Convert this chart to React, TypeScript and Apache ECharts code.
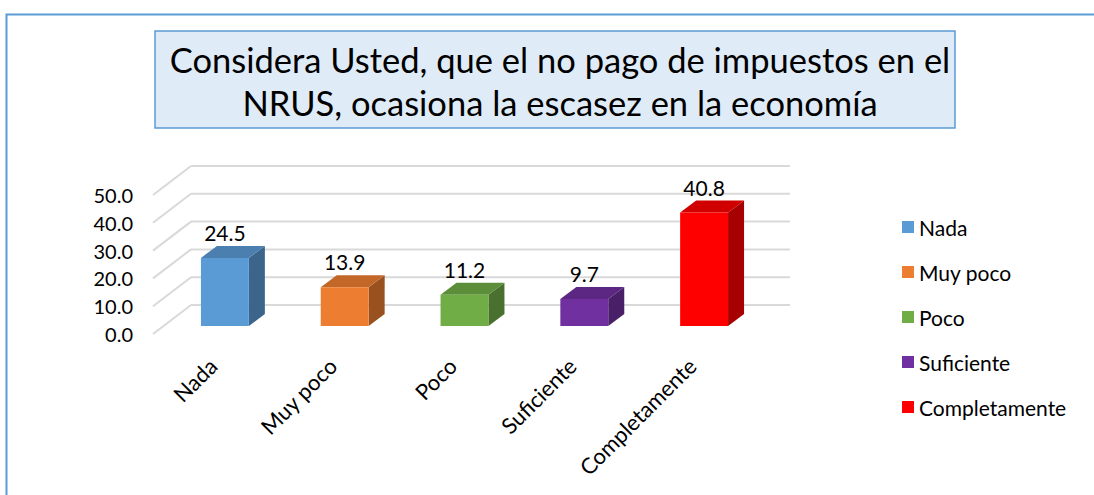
import React, { useEffect, useRef } from "react";
import * as echarts from "echarts";

const categories = ["Nada", "Muy poco", "Poco", "Suficiente", "Completamente"];
const values = [24.5, 13.9, 11.2, 9.7, 40.8];
const colors = ["#5b9bd5", "#ed7d31", "#70ad47", "#7030a0", "#ff0000"];
const yTicks = [0, 10, 20, 30, 40, 50];
const titleText = "Considera Usted, que el no pago de impuestos en el\nNRUS, ocasiona la escasez en la economía";

const FONT = "Lato, 'Open Sans', sans-serif";

function shade(hex: string, f: number): string {
  const n = parseInt(hex.slice(1), 16);
  const r = Math.round(((n >> 16) & 255) * f);
  const g = Math.round(((n >> 8) & 255) * f);
  const b = Math.round((n & 255) * f);
  return "rgb(" + r + "," + g + "," + b + ")";
}

// 3D geometry (pixels)
const WALL_DX = 38;
const WALL_DY = -29;
const FRONT_DX = 12;
const FRONT_DY = -8;
const DEPTH_DX = 16;
const DEPTH_DY = -12;
const BAR_RATIO = 0.4;

export default function App() {
  const ref = useRef<HTMLDivElement>(null);

  useEffect(() => {
    if (!ref.current) return;
    const chart = echarts.init(ref.current, null, { renderer: "svg" });

    const gridSeries: any = {
      type: "custom",
      name: "__grid",
      silent: true,
      z: 1,
      data: yTicks.map((v) => [0, v]),
      encode: { x: 0, y: 1 },
      renderItem: (params: any, api: any) => {
        const cs = params.coordSys;
        const y = api.coord([0, api.value(1)])[1];
        const x0 = cs.x;
        const x1 = cs.x + cs.width;
        const style = { stroke: "#d9d9d9", lineWidth: 2, fill: "none" };
        return {
          type: "group",
          children: [
            {
              type: "line",
              shape: { x1: x0, y1: y, x2: x0 + WALL_DX, y2: y + WALL_DY },
              style,
            },
            {
              type: "line",
              shape: { x1: x0 + WALL_DX, y1: y + WALL_DY, x2: x1 + WALL_DX, y2: y + WALL_DY },
              style,
            },
          ],
        };
      },
    };

    const barSeries: any[] = categories.map((name, i) => ({
      type: "custom",
      name,
      z: 5,
      itemStyle: { color: colors[i] },
      data: [[i, values[i]]],
      encode: { x: 0, y: 1 },
      renderItem: (params: any, api: any) => {
        const idx = api.value(0);
        const val = api.value(1);
        const top = api.coord([idx, val]);
        const base = api.coord([idx, 0]);
        const band = api.size([1, 0])[0];
        const w = band * BAR_RATIO;
        const cx = top[0] + FRONT_DX;
        const xl = cx - w / 2;
        const xr = cx + w / 2;
        const yt = top[1] + FRONT_DY;
        const yb = base[1] + FRONT_DY;
        const c = colors[i];
        return {
          type: "group",
          children: [
            {
              type: "polygon",
              shape: {
                points: [
                  [xr, yt],
                  [xr + DEPTH_DX, yt + DEPTH_DY],
                  [xr + DEPTH_DX, yb + DEPTH_DY],
                  [xr, yb],
                ],
              },
              style: { fill: shade(c, 0.65) },
            },
            {
              type: "polygon",
              shape: {
                points: [
                  [xl, yt],
                  [xl + DEPTH_DX, yt + DEPTH_DY],
                  [xr + DEPTH_DX, yt + DEPTH_DY],
                  [xr, yt],
                ],
              },
              style: { fill: shade(c, 0.82) },
            },
            {
              type: "rect",
              shape: { x: xl, y: yt, width: w, height: yb - yt },
              style: { fill: c },
            },
            {
              type: "text",
              style: {
                text: val.toFixed(1),
                x: cx,
                y: yt + DEPTH_DY - 3,
                align: "center",
                verticalAlign: "bottom",
                fontSize: 21,
                fontFamily: FONT,
                fill: "#000",
              },
            },
          ],
        };
      },
    }));

    chart.setOption({
      animation: false,
      backgroundColor: "#fff",
      title: {
        text: titleText,
        left: 555,
        top: 33,
        textAlign: "center",
        textStyle: {
          fontFamily: FONT,
          fontSize: 34.5,
          fontWeight: "normal",
          color: "#000",
          lineHeight: 43,
        },
      },
      graphic: [
        {
          type: "rect",
          z: -10,
          shape: { x: 6.5, y: 14.5, width: 1200, height: 600 },
          style: { fill: "none", stroke: "#5b9bd5", lineWidth: 2 },
        },
        {
          type: "rect",
          z: -5,
          shape: { x: 155, y: 31, width: 800, height: 97 },
          style: { fill: "#dfebf7", stroke: "#5b9bd5", lineWidth: 1.5 },
        },
      ],
      legend: {
        orient: "vertical",
        left: 897,
        top: 211,
        itemWidth: 12,
        itemHeight: 12,
        itemGap: 23,
        icon: "rect",
        data: categories,
        textStyle: { fontFamily: FONT, fontSize: 21, color: "#000", lineHeight: 22 },
      },
      grid: { left: 153, right: 342, top: 195, bottom: 161, containLabel: false },
      xAxis: {
        type: "category",
        data: categories,
        axisLine: { show: false },
        axisTick: { show: false },
        splitLine: { show: false },
        axisLabel: {
          rotate: 45,
          margin: 28,
          interval: 0,
          fontFamily: FONT,
          fontSize: 22,
          color: "#000",
        },
      },
      yAxis: {
        type: "value",
        min: 0,
        max: 50,
        interval: 10,
        axisLine: { show: false },
        axisTick: { show: false },
        splitLine: { show: false },
        axisLabel: {
          margin: 20,
          fontFamily: FONT,
          fontSize: 20,
          color: "#000",
          formatter: (v: number) => v.toFixed(1),
        },
      },
      series: [gridSeries, ...barSeries],
    });

    return () => chart.dispose();
  }, []);

  return (
    <div
      ref={ref}
      style={{ position: "fixed", left: 0, top: 0, width: 1094, height: 495 }}
    />
  );
}
